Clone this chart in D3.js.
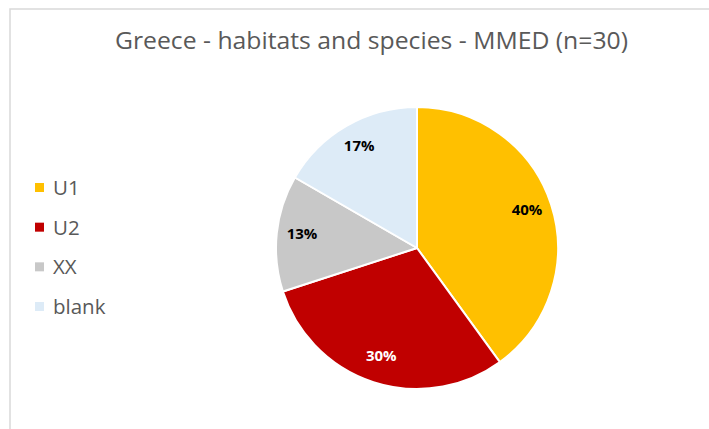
<!DOCTYPE html>
<html>
<head>
<meta charset="utf-8">
<script src="https://cdn.jsdelivr.net/npm/d3@7/dist/d3.min.js"></script>
<style>
html,body{margin:0;padding:0;background:#fff;}
svg{display:block;}
</style>
</head>
<body>
<svg id="chart" width="709" height="429"></svg>
<script>
const title = "Greece - habitats and species - MMED (n=30)";
const categories = ["U1", "U2", "XX", "blank"];
const counts = [12, 9, 4, 5];
const colors = ["#FFC000", "#C00000", "#C8C8C8", "#DDEBF7"];
const labelColors = ["#000000", "#ffffff", "#000000", "#000000"];

const svg = d3.select("#chart");
const W = 709, H = 429;
const font = "'Open Sans', sans-serif";

// border
svg.append("rect").attr("x", 10).attr("y", 9).attr("width", W + 10).attr("height", H + 10)
  .attr("fill", "#fff").attr("stroke", "#D9D9D9").attr("stroke-width", 1.5);

svg.append("text").attr("x", 371.5).attr("y", 49).attr("text-anchor", "middle")
  .attr("font-family", font).attr("font-size", 23).attr("fill", "#595959")
  .attr("textLength", 513).attr("lengthAdjust", "spacingAndGlyphs").text(title);

const data = categories.map((c, i) => ({cat: c, value: counts[i], color: colors[i], lc: labelColors[i]}));
const total = d3.sum(counts);

const cx = 417, cy = 248, R = 141;
const pie = d3.pie().value(d => d.value).sort(null);
const arc = d3.arc().innerRadius(0).outerRadius(R);
const labelArc = d3.arc().innerRadius(R * 0.82).outerRadius(R * 0.82);

const g = svg.append("g").attr("transform", `translate(${cx},${cy})`);
const arcs = pie(data);
g.selectAll("path").data(arcs).join("path")
  .attr("d", arc).attr("fill", d => d.data.color)
  .attr("stroke", "#fff").attr("stroke-width", 2).attr("stroke-linejoin", "round");

g.selectAll("text.lbl").data(arcs).join("text").attr("class", "lbl")
  .attr("transform", d => { const c = labelArc.centroid(d); return `translate(${c[0]},${c[1] - 3})`; })
  .attr("text-anchor", "middle").attr("dominant-baseline", "central")
  .attr("font-family", font).attr("font-weight", "bold").attr("font-size", 15)
  .attr("fill", d => d.data.lc)
  .text(d => Math.round(d.data.value / total * 100) + "%");

// legend
const ly = d3.scalePoint().domain(categories).range([187, 306]);
const leg = svg.append("g");
leg.selectAll("rect").data(data).join("rect")
  .attr("x", 35).attr("y", d => ly(d.cat) - 4).attr("width", 9).attr("height", 9)
  .attr("fill", d => d.color);
leg.selectAll("text").data(data).join("text")
  .attr("x", 53).attr("y", d => ly(d.cat)).attr("dominant-baseline", "central")
  .attr("font-family", font).attr("font-size", 20.5).attr("fill", "#595959")
  .text(d => d.cat);
</script>
</body>
</html>
